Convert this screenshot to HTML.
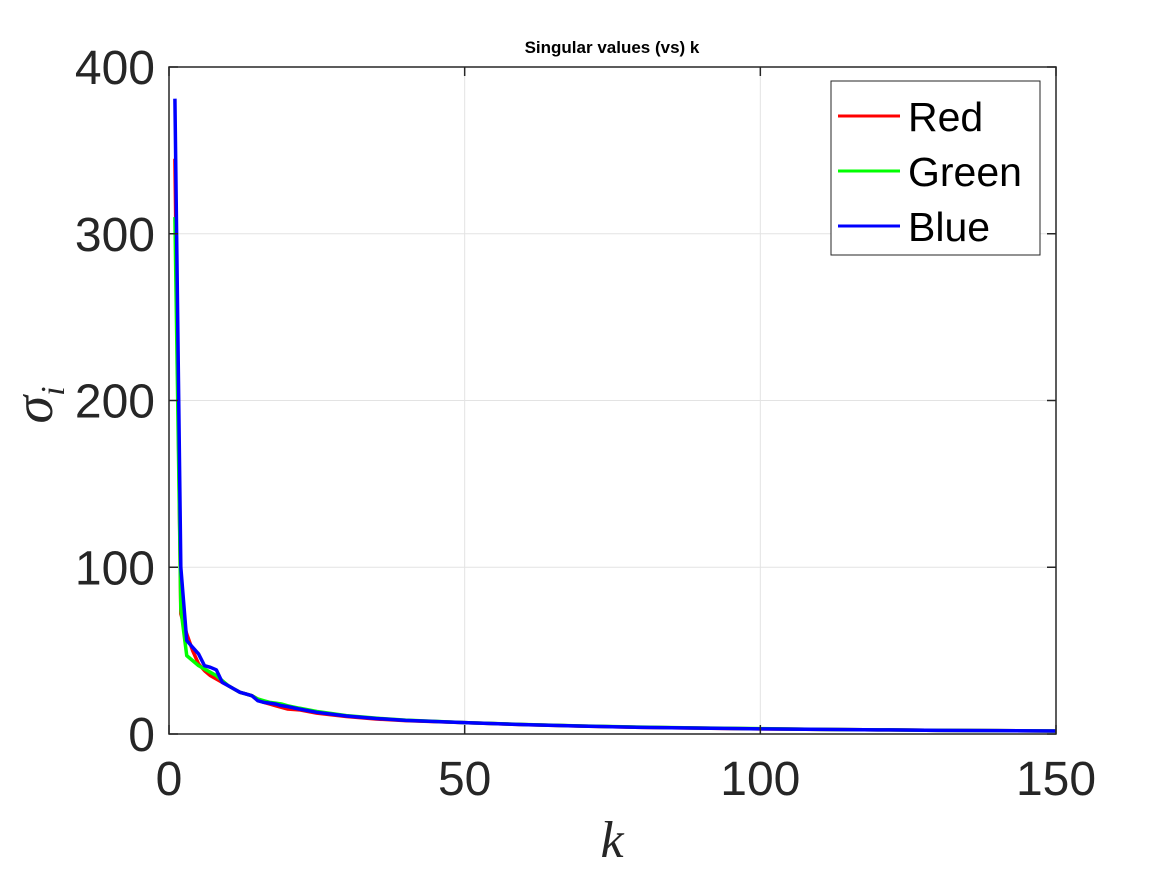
<!DOCTYPE html>
<html><head><meta charset="utf-8"><style>
body{margin:0;background:#fff}
svg text{font-family:"Liberation Sans",sans-serif;fill:#262626}
</style></head><body>
<svg width="1167" height="875">
<g id="grid"></g>
<g id="lines"></g>
<rect x="169" y="67" width="887" height="667" fill="none" stroke="#262626" stroke-width="1.5"/>
<g id="ticks"></g>
<text x="612" y="53" text-anchor="middle" font-size="17" font-weight="bold" style="fill:#000">Singular values (vs) k</text>
<text x="612" y="857" text-anchor="middle" font-size="52" font-style="italic" style="font-family:'Liberation Serif',serif">k</text>
<text transform="translate(52,405) rotate(-90)" text-anchor="middle" font-size="56" font-style="italic" style="font-family:'Liberation Serif',serif">σ<tspan font-size="34" dy="12">i</tspan></text>
<g>
<rect x="831" y="81" width="209" height="174" fill="#fff" stroke="#262626" stroke-width="1"/>
<g><line x1="838" y1="116" x2="900" y2="116" stroke="#f00" stroke-width="3"/><text x="908" y="131" font-size="41" style="fill:#000">Red</text></g>
<g><line x1="838" y1="171" x2="900" y2="171" stroke="#0f0" stroke-width="3"/><text x="908" y="186" font-size="41" style="fill:#000">Green</text></g>
<g><line x1="838" y1="226" x2="900" y2="226" stroke="#00f" stroke-width="3"/><text x="908" y="241" font-size="41" style="fill:#000">Blue</text></g>
</g>
</svg>
<script>
const kVals=[1,2,3,4,5,6,7,8,9,10,11,12,13,14,15,16,17,18,19,20,22,25,30,35,40,50,60,70,80,90,100,110,120,130,140,150];
const redVals=[345,72,60,50,42,38,35,33,31,29,27,25,24,23,21,19,18,17,16,15,14.5,12.5,10.5,9,8,6.8,5.6,4.7,4,3.5,3.1,2.8,2.5,2.2,2,1.8];
const greenVals=[310,75,47,44,41,39,37,35,32,29,27,25,24,23,21,20,19,18.5,18,17,15.5,13.5,11,9.5,8.3,6.8,5.7,4.8,4.1,3.6,3.2,2.8,2.5,2.2,2,1.8];
const blueVals=[381,100,56,52,48,41,40,38.5,31,29,27,25,24,23,20,19,18.5,18,17,16.5,15,13,10.8,9.3,8.2,6.8,5.6,4.7,4,3.5,3.1,2.8,2.5,2.2,2,1.8];
const xTicks=[0,50,100,150];
const yTicks=[0,100,200,300,400];
const X=v=>169+v*(887/150), Y=v=>734-v*(667/400);
const NS="http://www.w3.org/2000/svg";
const grid=document.getElementById('grid'),ticks=document.getElementById('ticks'),lines=document.getElementById('lines');
function mk(tag,attrs,parent){const e=document.createElementNS(NS,tag);for(const k in attrs)e.setAttribute(k,attrs[k]);parent.appendChild(e);return e;}
xTicks.forEach(t=>{
 const g=mk('line',{x1:X(t),x2:X(t),y1:67,y2:734,stroke:'#e3e3e3','stroke-width':1},grid);
 
 
 mk('line',{x1:X(t),x2:X(t),y1:734,y2:725,stroke:'#262626','stroke-width':1.5},ticks);
 mk('line',{x1:X(t),x2:X(t),y1:67,y2:76,stroke:'#262626','stroke-width':1.5},ticks);
 const l=mk('text',{x:X(t),y:795,'text-anchor':'middle','font-size':48},ticks);l.textContent=t;
 
 
});
yTicks.forEach(t=>{
 const g=mk('line',{x1:169,x2:1056,y1:Y(t),y2:Y(t),stroke:'#e3e3e3','stroke-width':1},grid);
 
 
 mk('line',{x1:169,x2:178,y1:Y(t),y2:Y(t),stroke:'#262626','stroke-width':1.5},ticks);
 mk('line',{x1:1056,x2:1047,y1:Y(t),y2:Y(t),stroke:'#262626','stroke-width':1.5},ticks);
 const l=mk('text',{x:155,y:Y(t)+17,'text-anchor':'end','font-size':48},ticks);l.textContent=t;
 
 
});
[[redVals,'#f00','red-line'],[greenVals,'#0f0','green-line'],[blueVals,'#00f','blue-line']].forEach(([vals,c,n])=>{
 const p=mk('polyline',{points:kVals.map((k,i)=>X(k)+','+Y(vals[i])).join(' '),fill:'none',stroke:c,'stroke-width':3.5,'stroke-linejoin':'round'},lines);
 
 
});
</script>
</body></html>
